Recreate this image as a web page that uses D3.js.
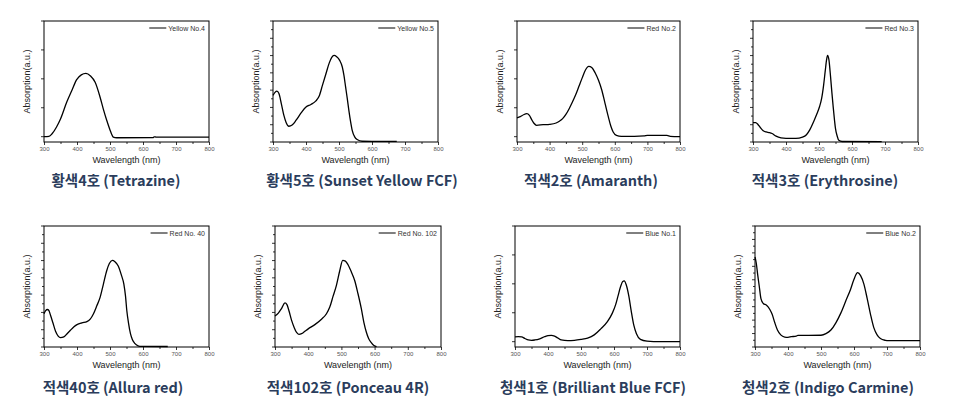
<!DOCTYPE html>
<html>
<head>
<meta charset="utf-8">
<script src="https://cdn.jsdelivr.net/npm/d3@7"></script>
<style>
  body { margin: 0; background: #fff; }
  svg { display: block; }
</style>
</head>
<body>
<svg id="chart" width="954" height="410"></svg>
<script>
// spectra, absorbance read as fraction of plot height
var yellow4 = [[300,.044],[315,.046],[325,.07],[338,.124],[350,.19],[369,.33],[385,.43],[399,.515],[413,.555],[427,.567],[441,.545],[455,.493],[470,.37],[480,.27],[490,.18],[500,.1],[510,.041],[520,.035],[630,.036],[634,.043],[640,.04],[800,.04]];
var yellow5 = [[300,.386],[306,.41],[312,.42],[318,.40],[325,.32],[333,.22],[340,.16],[348,.13],[358,.14],[370,.18],[385,.24],[400,.29],[415,.31],[430,.34],[440,.38],[450,.47],[460,.56],[470,.65],[478,.70],[485,.716],[493,.705],[502,.675],[510,.62],[515,.55],[520,.455],[525,.36],[530,.26],[535,.17],[540,.096],[548,.04],[555,.02],[570,.006],[600,.005],[675,.005]];
var red2 = [[300,.20],[310,.21],[320,.225],[330,.234],[338,.22],[345,.185],[352,.155],[360,.138],[380,.143],[400,.146],[420,.157],[430,.172],[440,.193],[450,.228],[460,.275],[470,.33],[480,.39],[490,.46],[500,.53],[510,.595],[520,.625],[530,.614],[540,.57],[550,.51],[560,.43],[570,.32],[580,.21],[588,.13],[595,.083],[605,.055],[620,.047],[660,.047],[690,.05],[700,.055],[760,.054],[770,.047],[800,.044]];
var red3 = [[300,.16],[308,.16],[315,.145],[322,.12],[330,.095],[340,.083],[350,.078],[358,.07],[370,.048],[385,.034],[400,.03],[430,.03],[450,.04],[462,.06],[472,.1],[484,.17],[494,.235],[502,.295],[508,.36],[514,.47],[519,.59],[523,.68],[526,.716],[530,.68],[535,.54],[539,.41],[543,.29],[547,.18],[550,.11],[555,.05],[560,.014],[570,.004],[690,.003]];
var red40 = [[300,.275],[305,.30],[310,.31],[315,.30],[320,.26],[327,.2],[335,.13],[343,.09],[350,.077],[360,.083],[370,.11],[380,.138],[390,.165],[400,.185],[415,.2],[430,.21],[440,.23],[450,.275],[460,.34],[470,.41],[480,.52],[490,.63],[498,.69],[507,.716],[515,.705],[525,.67],[535,.59],[542,.52],[547,.42],[551,.3],[556,.2],[562,.11],[568,.06],[575,.03],[585,.01],[595,.005],[675,.004]];
var red102 = [[300,.256],[310,.28],[320,.32],[330,.364],[336,.35],[342,.3],[350,.22],[358,.16],[365,.12],[372,.105],[380,.11],[390,.13],[400,.15],[420,.185],[440,.23],[455,.275],[465,.33],[475,.42],[485,.51],[495,.63],[504,.716],[512,.71],[520,.68],[530,.62],[540,.55],[550,.44],[560,.317],[568,.2],[575,.124],[582,.07],[590,.036],[598,.012],[606,.004]];
var blue1 = [[300,.083],[310,.085],[320,.083],[330,.07],[340,.058],[350,.055],[360,.058],[375,.068],[390,.085],[400,.094],[410,.096],[420,.09],[430,.074],[440,.058],[460,.052],[480,.055],[500,.063],[520,.074],[540,.1],[560,.15],[580,.21],[595,.28],[605,.35],[612,.42],[620,.5],[626,.54],[631,.547],[637,.515],[645,.42],[652,.3],[660,.18],[668,.11],[680,.063],[700,.048],[720,.045],[800,.044]];
var blue2 = [[300,.744],[304,.69],[308,.6],[313,.5],[318,.4],[325,.36],[335,.345],[345,.31],[352,.27],[360,.2],[368,.14],[378,.1],[390,.082],[400,.08],[410,.085],[425,.09],[430,.096],[460,.096],[500,.097],[515,.11],[530,.14],[545,.2],[560,.28],[575,.38],[590,.48],[600,.56],[611,.614],[620,.59],[630,.52],[640,.4],[650,.27],[660,.16],[670,.1],[680,.07],[695,.055],[705,.052],[800,.052]];

var spectra = [yellow4, yellow5, red2, red3, red40, red102, blue1, blue2];
var legendNames = ["Yellow No.4","Yellow No.5","Red No.2","Red No.3","Red No. 40","Red No. 102","Blue No.1","Blue No.2"];
var titles = ["황색4호 (Tetrazine)","황색5호 (Sunset Yellow FCF)","적색2호 (Amaranth)","적색3호 (Erythrosine)",
              "적색40호 (Allura red)","적색102호 (Ponceau 4R)","청색1호 (Brilliant Blue FCF)","청색2호 (Indigo Carmine)"];
var xTicks = [300,400,500,600,700,800];
var xMinor = [350,450,550,650,750];
// number of y tick intervals (0 = the 4-step kind with raised baseline)
var yDivs = [0,14,0,14,14,14,0,18];

// layout
var boxes = [
  {l:44, r:209, t:21, b:142, tx:116},
  {l:273, r:438, t:21, b:142, tx:362},
  {l:517, r:680, t:21, b:142, tx:591},
  {l:753, r:918, t:21, b:142, tx:825},
  {l:44, r:209, t:226, b:347, tx:113},
  {l:275, r:441, t:226, b:347, tx:348},
  {l:515, r:680, t:226, b:347, tx:593},
  {l:755, r:920, t:226, b:347, tx:828}
];
var titleY = [186, 393];

var svg = d3.select("#chart");
var sans = "'Liberation Sans', Arial, sans-serif";

spectra.forEach(function(data, i) {
  var bx = boxes[i];
  var g = svg.append("g");
  var x = d3.scaleLinear().domain([300,800]).range([bx.l, bx.r]);
  var y = d3.scaleLinear().domain([0,1]).range([bx.b, bx.t]);

  // y ticks
  var yt;
  if (yDivs[i] == 0) {
    yt = d3.range(5).map(function(k){ return 0.044 + k*0.239; });
  } else {
    yt = d3.range(yDivs[i]+1).map(function(k){ return k/yDivs[i]; });
  }
  g.selectAll(".yt").data(yt).enter().append("line")
    .attr("x1", bx.l).attr("x2", function(d,k){ return bx.l - ((yDivs[i]==0 || k%2==0) ? 3 : 2); })
    .attr("y1", function(d){ return y(d); }).attr("y2", function(d){ return y(d); })
    .attr("stroke", "#000").attr("stroke-width", 0.8);

  // x axis
  var xa = d3.axisBottom(x).tickValues(xTicks).tickSize(3).tickPadding(2);
  var gx = g.append("g").attr("transform", "translate(0," + bx.b + ")").call(xa);
  gx.select(".domain").remove();
  gx.selectAll("line").attr("stroke-width", 0.8);
  gx.selectAll("text").attr("font-family", sans).attr("font-size", 6).attr("fill", "#555");
  var gm = g.append("g").attr("transform", "translate(0," + bx.b + ")")
    .call(d3.axisBottom(x).tickValues(xMinor).tickSize(2).tickFormat(""));
  gm.select(".domain").remove();
  gm.selectAll("line").attr("stroke-width", 0.8);

  // curve
  var line = d3.line().x(function(d){ return x(d[0]); }).y(function(d){ return y(d[1]); })
    .curve(d3.curveMonotoneX);
  g.append("path").datum(data).attr("d", line)
    .attr("fill", "none").attr("stroke", "#000").attr("stroke-width", 1.3);

  // frame
  g.append("rect").attr("x", bx.l).attr("y", bx.t)
    .attr("width", bx.r - bx.l).attr("height", bx.b - bx.t)
    .attr("fill", "none").attr("stroke", "#000").attr("stroke-width", 1);

  // legend
  var lt = g.append("text").attr("x", bx.r - 4).attr("y", bx.t + 9.5)
    .attr("text-anchor", "end").attr("font-family", sans).attr("font-size", 7)
    .attr("fill", "#333").text(legendNames[i]);
  var w = lt.node().getComputedTextLength();
  g.append("line").attr("x1", bx.r - 4 - w - 19).attr("x2", bx.r - 4 - w - 2)
    .attr("y1", bx.t + 7).attr("y2", bx.t + 7).attr("stroke", "#000").attr("stroke-width", 1);

  // axis titles
  g.append("text").attr("x", (bx.l + bx.r)/2).attr("y", bx.b + 21)
    .attr("text-anchor", "middle").attr("font-family", sans).attr("font-size", 9)
    .attr("fill", "#222").text("Wavelength (nm)");
  g.append("text").attr("transform", "translate(" + (bx.l - 14) + "," + ((bx.t + bx.b)/2) + ") rotate(-90)")
    .attr("text-anchor", "middle").attr("font-family", sans).attr("font-size", 9)
    .attr("fill", "#222").text("Absorption(a.u.)");

  // panel title
  g.append("text").attr("x", bx.tx).attr("y", titleY[i < 4 ? 0 : 1])
    .attr("text-anchor", "middle").attr("font-family", "'Noto Sans CJK KR', sans-serif")
    .attr("font-weight", 700).attr("font-size", 14.5).attr("fill", "#2b3d5c")
    .text(titles[i]);
});
</script>
</body>
</html>
